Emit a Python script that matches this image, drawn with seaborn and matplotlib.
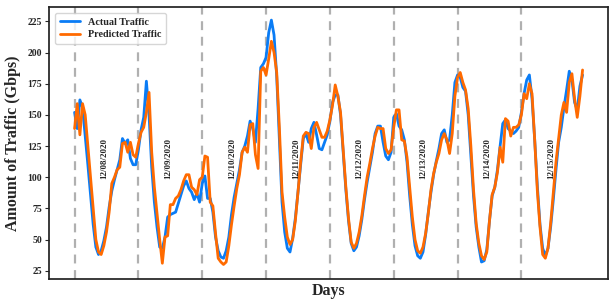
import numpy as np
import pandas as pd
import matplotlib
matplotlib.use("Agg")
import matplotlib.pyplot as plt
import seaborn as sns

# hourly samples, 8 days
dates = ["12/08/2020", "12/09/2020", "12/10/2020", "12/11/2020",
         "12/12/2020", "12/13/2020", "12/14/2020", "12/15/2020"]

actual = [
    # 12/08
    152, 139, 162, 156, 133, 110, 86, 62, 44, 38, 41, 49, 60, 76, 89, 98, 106, 114, 131, 127, 130, 115, 110, 110,
    # 12/09
    122, 138, 148, 177, 150, 108, 80, 60, 44, 43, 52, 68, 70, 71, 72, 79, 86, 93, 97, 91, 88, 82, 87, 80,
    # 12/10
    95, 101, 83, 83, 72, 52, 41, 36, 35, 41, 52, 70, 84, 95, 106, 120, 125, 133, 145, 139, 128, 155, 188, 191,
    # 12/11
    196, 216, 226, 214, 181, 130, 80, 56, 43, 40, 51, 67, 88, 110, 131, 135, 128, 139, 144, 134, 123, 122, 128, 134,
    # 12/12
    145, 160, 166, 166, 150, 120, 90, 65, 47, 41, 44, 53, 66, 82, 96, 108, 120, 135, 141, 141, 128, 117, 114, 120,
    # 12/13
    148, 151, 141, 138, 130, 112, 85, 62, 45, 37, 35, 40, 54, 72, 88, 102, 113, 123, 135, 138, 128, 130, 150, 176,
    # 12/14
    182, 180, 172, 169, 150, 118, 85, 60, 44, 32, 33, 42, 65, 85, 92, 106, 125, 143, 146, 139, 137, 135, 137, 140,
    # 12/15
    152, 167, 178, 182, 163, 130, 93, 62, 43, 37, 43, 60, 82, 106, 128, 140, 156, 170, 185, 178, 160, 154, 173, 182,
]

predicted = [
    # 12/08
    139, 159, 134, 159, 150, 125, 100, 75, 50, 40, 38, 45, 56, 72, 95, 100, 106, 108, 127, 128, 120, 128, 118, 116,
    # 12/09
    127, 136, 140, 152, 168, 120, 92, 71, 50, 31, 52, 53, 78, 78, 83, 85, 90, 97, 102, 102, 92, 90, 86, 98,
    # 12/10
    100, 117, 116, 80, 77, 55, 35, 32, 30, 32, 45, 62, 77, 91, 102, 120, 124, 120, 142, 143, 118, 107, 185, 188,
    # 12/11
    182, 195, 209, 200, 184, 140, 88, 68, 52, 46, 50, 65, 88, 112, 133, 136, 135, 123, 140, 144, 138, 132, 132, 137,
    # 12/12
    146, 158, 174, 165, 152, 122, 92, 67, 48, 43, 47, 56, 69, 85, 100, 111, 123, 133, 140, 139, 139, 123, 119, 122,
    # 12/13
    140, 154, 154, 130, 129, 116, 92, 68, 50, 41, 39, 44, 55, 71, 90, 103, 112, 119, 130, 135, 130, 119, 135, 165,
    # 12/14
    180, 184, 176, 170, 155, 125, 90, 63, 47, 37, 34, 40, 65, 86, 92, 104, 124, 112, 147, 145, 133, 140, 140, 142,
    # 12/15
    150, 167, 163, 175, 167, 130, 89, 60, 38, 35, 43, 63, 88, 112, 131, 150, 160, 152, 176, 183, 163, 148, 165, 186,
]

hours = np.arange(len(actual))
df = pd.DataFrame({
    "hour": np.concatenate([hours, hours]),
    "traffic": actual + predicted,
    "series": ["Actual Traffic"] * len(actual) + ["Predicted Traffic"] * len(predicted),
})

sns.set_theme(style="ticks")
plt.rcParams["font.family"] = ["Liberation Serif", "DejaVu Serif"]
plt.rcParams["axes.edgecolor"] = "#222222"

fig, ax = plt.subplots(figsize=(6.13, 3.05), dpi=100)
fig.subplots_adjust(left=0.080, right=0.992, top=0.977, bottom=0.085)

sns.lineplot(data=df, x="hour", y="traffic", hue="series",
             palette=["#0a7cf5", "#ff6a00"], linewidth=2, ax=ax)

for i, d in enumerate(dates):
    ax.axvline(24 * i, color="#b0b0b0", linestyle=(0, (4, 3)), linewidth=1.6, zorder=0)
    ax.text(24 * i + 11.2, 115, d, rotation=90, ha="center", va="center",
            fontsize=6.5, fontweight="bold")

ax.set_ylim(18.3, 236.5)
ax.set_xlim(-9.6, 200.6)
ax.set_xticks([])
ax.set_yticks([25, 50, 75, 100, 125, 150, 175, 200, 225])
ax.tick_params(axis="y", labelsize=7, length=3, width=0.8, pad=2)
for lbl in ax.get_yticklabels():
    lbl.set_fontweight("bold")
ax.set_xlabel("Days", fontsize=11.5, fontweight="bold", labelpad=3)
ax.set_ylabel("Amount of Traffic (Gbps)", fontsize=11.5, fontweight="bold", labelpad=5)

leg = ax.legend(loc="upper left", fontsize=7.3, frameon=True, handlelength=2.0,
                borderpad=0.45, labelspacing=0.35, borderaxespad=0.6)
for t in leg.get_texts():
    t.set_fontweight("bold")
for h in leg.get_lines():
    h.set_linewidth(2)

fig.savefig("out.png", dpi=100)
